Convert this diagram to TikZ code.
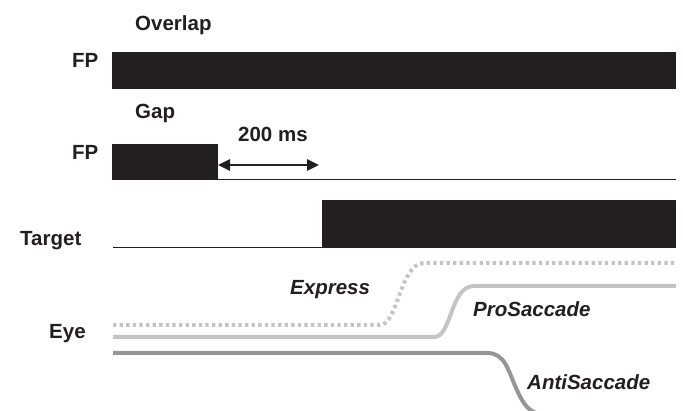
\documentclass[tikz,border=0pt]{standalone}
\usepackage{fontspec}
\setmainfont{Liberation Sans}
\usetikzlibrary{arrows.meta}
\definecolor{barblack}{RGB}{35,31,32}
\definecolor{lightgr}{RGB}{196,196,196}
\definecolor{midgr}{RGB}{150,150,150}
\tikzset{
  lab/.style={anchor=base west, inner sep=0pt, font=\fontsize{20.5}{24}\selectfont\bfseries, text=barblack},
  ilab/.style={lab, font=\fontsize{20.5}{24}\selectfont\bfseries\itshape},
  bar/.style={fill=barblack},
  baseln/.style={draw=barblack, line width=1.2pt},
  express/.style={draw=lightgr, line width=4pt, dash pattern=on 3.3pt off 3.3pt},
  prosac/.style={draw=lightgr, line width=4pt},
  antisac/.style={draw=midgr, line width=4pt},
  timearrow/.style={draw=barblack, line width=2.6pt, {Triangle[length=12pt,width=11pt]}-{Triangle[length=12pt,width=11pt]}}
}
\begin{document}
\begin{tikzpicture}[x=1pt,y=-1pt]
\useasboundingbox (0,0) rectangle (683,411);
\clip (0,0) rectangle (683,411);
% labels
\node[lab] (overlap) at (135,31) {Overlap};
\node[lab] (fp1) at (72,68) {FP};
\node[lab] (gap) at (135,119) {Gap};
\node[lab] (fp2) at (72,160) {FP};
\node[lab] (ms) at (238,142) {200 ms};
\node[lab] (target) at (20,246) {Target};
\node[lab] (eye) at (49,339) {Eye};
\node[ilab] (express) at (290,295) {Express};
\node[ilab] (pro) at (473,317) {ProSaccade};
\node[ilab] (anti) at (527,390) {AntiSaccade};
% bars
\fill[bar] (112,52) rectangle (676,89);
\fill[bar] (112,144) rectangle (218,180);
\draw[baseln] (218,179.4) -- (676,179.4);
\fill[bar] (322,200) rectangle (676,248);
\draw[baseln] (113,247.4) -- (322,247.4);
% 200 ms arrow
\coordinate (a1) at (218,165);
\coordinate (a2) at (319,165);
\draw[timearrow] (a1) -- (a2);
% eye traces
\draw[antisac] (113,353) -- (487,353) .. controls (505,353) and (508,370) .. (516,388) .. controls (522,401) and (526,409) .. (536,413);
\draw[prosac] (113,337) -- (434,337) .. controls (452,337) and (450,286) .. (474,286) -- (676,286);
\draw[express] (113,325) -- (380,325) .. controls (398,325) and (400,263) .. (424,263) -- (676,263);
\end{tikzpicture}
\end{document}
